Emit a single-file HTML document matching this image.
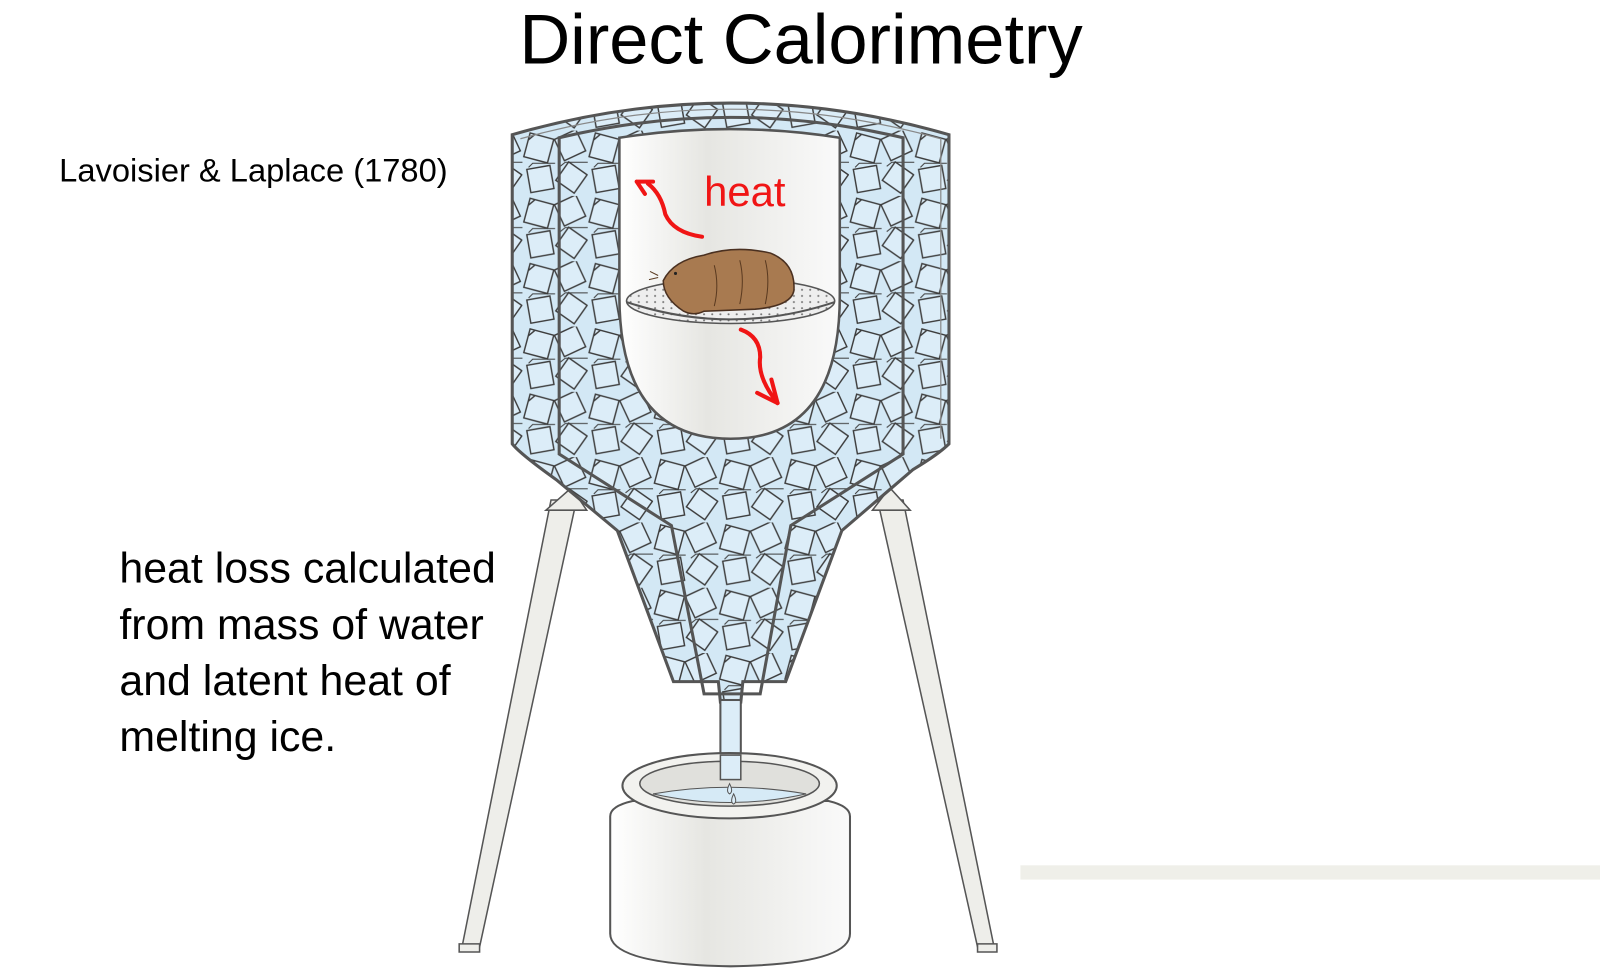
<!DOCTYPE html>
<html><head><meta charset="utf-8"><style>
html,body{margin:0;padding:0;background:#fff;}
body{width:1600px;height:972px;position:relative;overflow:hidden;font-family:"Liberation Sans",sans-serif;}
#c{position:absolute;left:0;top:0;width:1568px;height:953px;transform:scale(1.0204);transform-origin:0 0;}
.t{position:absolute;color:#000;white-space:nowrap;}
</style></head><body><div id="c">
<div class="t" style="left:0;width:1570px;text-align:center;top:-1px;font-size:69px;">Direct Calorimetry</div>
<div class="t" style="left:58px;top:149px;font-size:32px;">Lavoisier &amp; Laplace (1780)</div>
<div class="t" style="left:117px;top:529px;font-size:42px;line-height:55px;">heat loss calculated<br>from mass of water<br>and latent heat of<br>melting ice.</div>
<div style="position:absolute;left:1000px;top:848px;width:600px;height:14px;background:#efefe9;"></div>
<svg width="1568" height="953" style="position:absolute;left:0;top:0" xmlns="http://www.w3.org/2000/svg">
<defs>
<pattern id="ice" width="64" height="64" patternUnits="userSpaceOnUse">
<rect width="64" height="64" fill="#d3e8f5"/>
<g fill="#dcedf8" stroke="#3c3c3c" stroke-width="1.4">
<rect x="4" y="5" width="24" height="24" transform="rotate(15 16 17)"/>
<path d="M6,9 l6,-5" fill="none"/>
<rect x="35" y="3" width="23" height="23" transform="rotate(-25 46 14)"/>
<rect x="6" y="36" width="23" height="23" transform="rotate(-10 17 47)"/>
<rect x="37" y="35" width="22" height="22" transform="rotate(35 48 46)"/>
<path d="M37,35 l5,-4 h22 M6,36 l4,-4 h22" fill="none" stroke-width="1"/>
</g>
</pattern>
<linearGradient id="cup" x1="0" x2="1"><stop offset="0" stop-color="#fff"/><stop offset="0.4" stop-color="#e6e6e2"/><stop offset="1" stop-color="#fafafa"/></linearGradient>
<pattern id="dots" width="8" height="6" patternUnits="userSpaceOnUse"><rect width="8" height="6" fill="#eeeeee"/><circle cx="2" cy="2" r="1" fill="#777"/></pattern>
</defs>
<g fill="#eeeeea" stroke="#555" stroke-width="1.5">
<polygon points="540,490 565,490 470,928 452,932"/>
<polygon points="860,490 885,490 975,932 958,928"/>
<polygon points="450,925 470,925 470,933 450,933"/>
<polygon points="958,925 977,925 977,933 958,933"/>
<polygon points="535,500 560,478 575,500"/>
<polygon points="855,500 872,478 892,500"/>
</g>
<path d="M502,132 Q716,70 930,132 L930,435 Q920,445 895,460 L825,520 L770,668 L728,668 L726,688 L706,688 L704,668 L660,668 L605,520 L545,470 Q510,445 502,435 Z" fill="url(#ice)" stroke="#555" stroke-width="3"/>
<path d="M510,136 Q716,78 922,136 L922,430" fill="none" stroke="#888" stroke-width="1.2"/>
<path d="M548,135 Q716,95 885,135 L885,445 L775,515 L745,680 L690,680 L658,515 L548,445 Z" fill="none" stroke="#555" stroke-width="3"/>
<rect x="706" y="686" width="20" height="66" fill="#dcedf8" stroke="#555" stroke-width="2"/>
<path d="M607,135 Q716,118 823,135 L823,290 Q823,430 716,430 Q607,430 607,290 Z" fill="url(#cup)" stroke="#555" stroke-width="2.5"/>
<ellipse cx="716" cy="295" rx="102" ry="22" fill="url(#dots)" stroke="#555" stroke-width="1.5"/>
<path d="M614,296 Q716,330 818,296" fill="none" stroke="#555" stroke-width="2"/>
<path d="M650,275 Q660,255 690,250 Q720,240 755,248 Q780,258 778,285 Q775,300 740,303 L690,305 Q680,310 670,305 Q650,292 650,275 Z" fill="#a87a50" stroke="#4a3020" stroke-width="1.5"/>
<path d="M700,260 Q705,280 700,300 M725,255 Q730,275 725,298 M750,255 Q755,275 750,298 M645,270 l-8,-4 M645,272 l-9,2" stroke="#5a3a20" fill="none" stroke-width="1"/>
<circle cx="662" cy="268" r="1.5" fill="#222"/>
<g fill="none" stroke="#f01515" stroke-width="4" stroke-linecap="round">
<path d="M688,232 Q660,228 652,210 Q648,190 635,180"/>
<path d="M624,178 L640,178 M624,178 L632,190"/>
<path d="M726,323 Q745,330 745,350 Q742,370 762,395"/>
<path d="M762,395 L742,385 M762,395 L756,372"/>
</g>
<text x="690" y="202" font-family="Liberation Sans,sans-serif" font-size="41" fill="#f01515">heat</text>
<path d="M598,800 Q598,790 620,785 L812,785 Q833,790 833,800 L833,915 Q833,945 716,947 Q598,945 598,915 Z" fill="url(#cup)" stroke="#555" stroke-width="2"/>
<ellipse cx="715" cy="770" rx="105" ry="32" fill="#f2f2ef" stroke="#555" stroke-width="2"/>
<ellipse cx="715" cy="768" rx="88" ry="22" fill="#e0e0dc" stroke="#555" stroke-width="1.5"/>
<path d="M640,778 Q715,765 790,778 Q715,795 640,778 Z" fill="#d6eaf6" stroke="#555" stroke-width="1"/>
<rect x="706" y="740" width="20" height="24" fill="#dcedf8" stroke="#555" stroke-width="1.5"/>
<path d="M715,768 q-4,8 0,10 q4,-2 0,-10 Z M719,778 q-4,8 0,10 q4,-2 0,-10 Z" fill="#dcedf8" stroke="#555"/>
</svg>
</div></body></html>
